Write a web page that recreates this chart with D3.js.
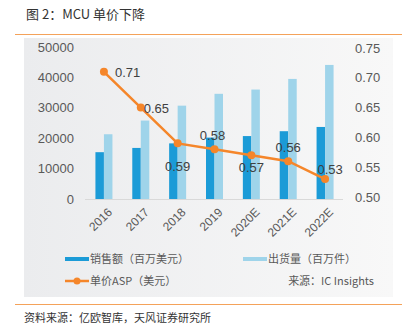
<!DOCTYPE html>
<html>
<head>
<meta charset="utf-8">
<script src="https://cdn.jsdelivr.net/npm/d3@7"></script>
<style>
  body { margin: 0; background: #fff; }
  svg { display: block; font-family: "Noto Sans CJK SC", "Liberation Sans", sans-serif; }
</style>
</head>
<body>
<script>
const years = ['2016', '2017', '2018', '2019', '2020E', '2021E', '2022E']
const sales = [15400, 16800, 18300, 20200, 20700, 22300, 23700]
const shipments = [21300, 25800, 30700, 34600, 36000, 39500, 44100]
const asp = [0.71, 0.65, 0.59, 0.58, 0.57, 0.56, 0.53]
const leftTicks = [0, 10000, 20000, 30000, 40000, 50000]
const rightTicks = [0.5, 0.55, 0.6, 0.65, 0.7, 0.75]
// value label placement: [anchor, dx, dy] relative to the point
const labelPos = [['start', 11, 5], ['start', 3, 5], ['middle', 0, 28], ['middle', -2, -9],
  ['middle', 0, 17], ['middle', 0, -9], ['middle', 5, -5]]

const W = 415, H = 327
const dark = '#1b9bd7', light = '#9fd4ea', orange = '#f5862a'

const svg = d3.select('body').append('svg').attr('width', W).attr('height', H)

const defs = svg.append('defs')
const grad = defs.append('linearGradient').attr('id', 'bg')
grad.append('stop').attr('offset', '0%').attr('stop-color', '#ebecee')
grad.append('stop').attr('offset', '100%').attr('stop-color', '#f8f8f8')

svg.append('text').attr('x', 26).attr('y', 19)
  .attr('font-size', 13).attr('fill', '#333')
  .text('图 2：MCU 单价下降')
svg.append('line').attr('x1', 15).attr('x2', 402).attr('y1', 34.5).attr('y2', 34.5)
  .attr('stroke', '#f4a25a').attr('stroke-width', 1)

svg.append('rect').attr('x', 24).attr('y', 38).attr('width', 369).attr('height', 259)
  .attr('fill', 'url(#bg)')

svg.append('line').attr('x1', 15).attr('x2', 402).attr('y1', 304.5).attr('y2', 304.5)
  .attr('stroke', '#f4a25a').attr('stroke-width', 1)
svg.append('text').attr('x', 24).attr('y', 322)
  .attr('font-size', 11).attr('fill', '#333')
  .text('资料来源：亿欧智库，天风证券研究所')

const x = d3.scaleBand().domain(years).range([85.5, 343.5])
const yL = d3.scaleLinear().domain([0, 50000]).range([199, 47])
const yR = d3.scaleLinear().domain([0.5, 0.75]).range([197, 48])
const bw = 8.5

const axL = svg.append('g').attr('transform', 'translate(74,0)')
  .call(d3.axisLeft(yL).tickValues(leftTicks).tickSize(0).tickPadding(0).tickFormat(d3.format('d')))
axL.select('.domain').remove()
axL.selectAll('text').attr('font-size', 13).attr('fill', '#595959').attr('font-family', 'Liberation Sans, sans-serif')

const axR = svg.append('g').attr('transform', 'translate(355,0)')
  .call(d3.axisRight(yR).tickValues(rightTicks).tickSize(0).tickPadding(0).tickFormat(d3.format('.2f')))
axR.select('.domain').remove()
axR.selectAll('text').attr('font-size', 13).attr('fill', '#595959').attr('font-family', 'Liberation Sans, sans-serif')

svg.append('line').attr('x1', 85).attr('x2', 343).attr('y1', 199.5).attr('y2', 199.5)
  .attr('stroke', '#d9d9d9')

const cx = d => x(d) + x.bandwidth() / 2

svg.selectAll('.sales').data(years).enter().append('rect')
  .attr('x', (d) => cx(d) - bw).attr('width', bw)
  .attr('y', (d, i) => yL(sales[i])).attr('height', (d, i) => yL(0) - yL(sales[i]))
  .attr('fill', dark)
svg.selectAll('.ship').data(years).enter().append('rect')
  .attr('x', (d) => cx(d)).attr('width', bw)
  .attr('y', (d, i) => yL(shipments[i])).attr('height', (d, i) => yL(0) - yL(shipments[i]))
  .attr('fill', light)

const line = d3.line().x((d, i) => cx(years[i])).y(d => yR(d))
svg.append('path').datum(asp).attr('d', line)
  .attr('fill', 'none').attr('stroke', orange).attr('stroke-width', 2.5)
svg.selectAll('.pt').data(asp).enter().append('circle')
  .attr('cx', (d, i) => cx(years[i])).attr('cy', d => yR(d)).attr('r', 4)
  .attr('fill', orange)

svg.selectAll('.lbl').data(asp).enter().append('text')
  .attr('x', (d, i) => cx(years[i]) + labelPos[i][1])
  .attr('y', (d, i) => yR(d) + labelPos[i][2])
  .attr('text-anchor', (d, i) => labelPos[i][0])
  .attr('font-size', 13).attr('fill', '#404040').attr('font-family', 'Liberation Sans, sans-serif')
  .text(d => d.toFixed(2))

svg.selectAll('.xl').data(years).enter().append('text')
  .attr('transform', d => `translate(${cx(d) + 3},${207}) rotate(-45)`)
  .attr('text-anchor', 'end').attr('dy', '0.7em')
  .attr('font-size', 12).attr('fill', '#595959').attr('font-family', 'Liberation Sans, sans-serif')
  .text(d => d)

const lg = svg.append('g').attr('font-size', 11).attr('fill', '#595959')
lg.append('rect').attr('x', 65).attr('y', 257).attr('width', 24).attr('height', 4).attr('fill', dark)
lg.append('text').attr('x', 90).attr('y', 263).text('销售额（百万美元）')
lg.append('rect').attr('x', 243).attr('y', 257).attr('width', 24).attr('height', 4).attr('fill', light)
lg.append('text').attr('x', 268).attr('y', 263).text('出货量（百万件）')
lg.append('line').attr('x1', 65).attr('x2', 89).attr('y1', 281).attr('y2', 281)
  .attr('stroke', orange).attr('stroke-width', 2.5)
lg.append('circle').attr('cx', 77).attr('cy', 281).attr('r', 3.5).attr('fill', orange)
lg.append('text').attr('x', 90).attr('y', 285).text('单价ASP（美元）')
lg.append('text').attr('x', 374).attr('y', 285).attr('text-anchor', 'end').text('来源：IC Insights')
</script>
</body>
</html>
